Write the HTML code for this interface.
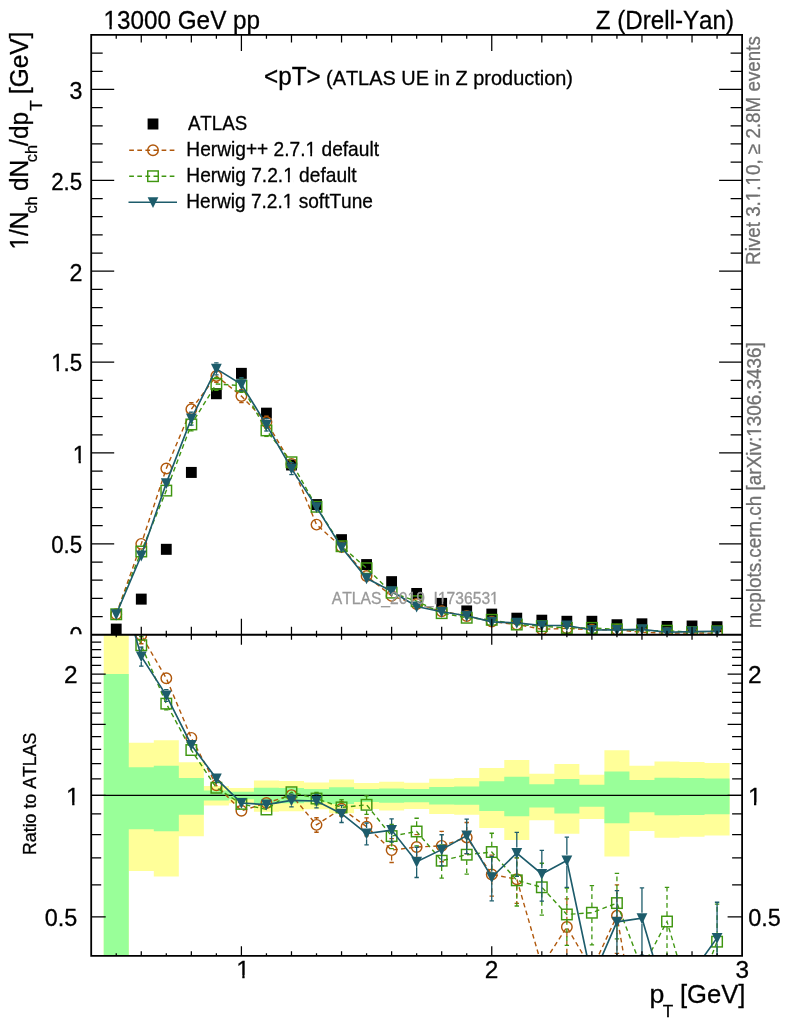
<!DOCTYPE html>
<html><head><meta charset="utf-8"><title>plot</title><style>html,body{margin:0;padding:0;background:#fff}svg{display:block;will-change:transform}text{font-kerning:none}</style></head><body>
<svg width="786" height="1024" viewBox="0 0 786 1024" font-family="'Liberation Sans', sans-serif">
<rect width="786" height="1024" fill="#fff"/>
<defs><clipPath id="cm"><rect x="91.2" y="34.9" width="650.9" height="599.85"/></clipPath><clipPath id="cr"><rect x="91.2" y="634.75" width="650.9" height="321.04999999999995"/></clipPath><clipPath id="c0"><rect x="0" y="0" width="91.2" height="634.15"/></clipPath></defs>
<g clip-path="url(#cm)"><rect x="110.83" y="623.62" width="10.8" height="11" fill="#000"/><rect x="135.87" y="593.62" width="10.8" height="11" fill="#000"/><rect x="160.90" y="543.82" width="10.8" height="11" fill="#000"/><rect x="185.94" y="466.93" width="10.8" height="11" fill="#000"/><rect x="210.97" y="388.22" width="10.8" height="11" fill="#000"/><rect x="236.01" y="367.86" width="10.8" height="11" fill="#000"/><rect x="261.04" y="407.67" width="10.8" height="11" fill="#000"/><rect x="286.08" y="459.47" width="10.8" height="11" fill="#000"/><rect x="311.11" y="499.10" width="10.8" height="11" fill="#000"/><rect x="336.15" y="534.18" width="10.8" height="11" fill="#000"/><rect x="361.18" y="559.09" width="10.8" height="11" fill="#000"/><rect x="386.22" y="576.17" width="10.8" height="11" fill="#000"/><rect x="411.25" y="587.99" width="10.8" height="11" fill="#000"/><rect x="436.28" y="597.89" width="10.8" height="11" fill="#000"/><rect x="461.32" y="605.44" width="10.8" height="11" fill="#000"/><rect x="486.35" y="608.62" width="10.8" height="11" fill="#000"/><rect x="511.39" y="612.71" width="10.8" height="11" fill="#000"/><rect x="536.42" y="614.71" width="10.8" height="11" fill="#000"/><rect x="561.46" y="615.80" width="10.8" height="11" fill="#000"/><rect x="586.49" y="615.80" width="10.8" height="11" fill="#000"/><rect x="611.53" y="619.25" width="10.8" height="11" fill="#000"/><rect x="636.56" y="618.34" width="10.8" height="11" fill="#000"/><rect x="661.60" y="620.96" width="10.8" height="11" fill="#000"/><rect x="686.63" y="620.52" width="10.8" height="11" fill="#000"/><rect x="711.67" y="621.25" width="10.8" height="11" fill="#000"/></g>
<g clip-path="url(#cm)" stroke="#b0580c" fill="none"><path d="M116.23 614.28 L141.27 543.86 L166.30 468.43 L191.34 409.17 L216.37 375.91 L241.41 396.08 L266.44 422.08 L291.48 463.88 L316.51 524.60 L341.55 546.95 L366.58 576.02 L391.62 595.90 L416.65 604.01 L441.68 611.23 L466.72 616.01 L491.75 621.61 L516.79 624.49 L541.82 629.25 L566.86 628.40 L591.89 629.77 L616.93 629.72 L641.96 632.35 L667.00 633.09 L692.03 633.00 L717.07 633.15" stroke-width="1.4" stroke-dasharray="4.7 3.4"/><path d="M191.34 403.57V402.68" stroke-width="1.3" stroke-dasharray="4.7 3.4"/><path d="M189.14 402.68H193.54" stroke-width="1.3"/><path d="M191.34 414.77V415.66" stroke-width="1.3" stroke-dasharray="4.7 3.4"/><path d="M189.14 415.66H193.54" stroke-width="1.3"/><path d="M216.37 370.31V369.40" stroke-width="1.3" stroke-dasharray="4.7 3.4"/><path d="M214.17 369.40H218.57" stroke-width="1.3"/><path d="M216.37 381.51V382.41" stroke-width="1.3" stroke-dasharray="4.7 3.4"/><path d="M214.17 382.41H218.57" stroke-width="1.3"/><path d="M241.41 390.48V389.55" stroke-width="1.3" stroke-dasharray="4.7 3.4"/><path d="M239.21 389.55H243.61" stroke-width="1.3"/><path d="M241.41 401.68V402.62" stroke-width="1.3" stroke-dasharray="4.7 3.4"/><path d="M239.21 402.62H243.61" stroke-width="1.3"/><path d="M266.44 416.48V416.09" stroke-width="1.3" stroke-dasharray="4.7 3.4"/><path d="M264.24 416.09H268.64" stroke-width="1.3"/><path d="M266.44 427.68V428.06" stroke-width="1.3" stroke-dasharray="4.7 3.4"/><path d="M264.24 428.06H268.64" stroke-width="1.3"/></g><g clip-path="url(#cm)"><circle cx="116.23" cy="614.28" r="5.25" fill="none" stroke="#b0580c" stroke-width="1.45"/><circle cx="141.27" cy="543.86" r="5.25" fill="none" stroke="#b0580c" stroke-width="1.45"/><circle cx="166.30" cy="468.43" r="5.25" fill="none" stroke="#b0580c" stroke-width="1.45"/><circle cx="191.34" cy="409.17" r="5.25" fill="none" stroke="#b0580c" stroke-width="1.45"/><circle cx="216.37" cy="375.91" r="5.25" fill="none" stroke="#b0580c" stroke-width="1.45"/><circle cx="241.41" cy="396.08" r="5.25" fill="none" stroke="#b0580c" stroke-width="1.45"/><circle cx="266.44" cy="422.08" r="5.25" fill="none" stroke="#b0580c" stroke-width="1.45"/><circle cx="291.48" cy="463.88" r="5.25" fill="none" stroke="#b0580c" stroke-width="1.45"/><circle cx="316.51" cy="524.60" r="5.25" fill="none" stroke="#b0580c" stroke-width="1.45"/><circle cx="341.55" cy="546.95" r="5.25" fill="none" stroke="#b0580c" stroke-width="1.45"/><circle cx="366.58" cy="576.02" r="5.25" fill="none" stroke="#b0580c" stroke-width="1.45"/><circle cx="391.62" cy="595.90" r="5.25" fill="none" stroke="#b0580c" stroke-width="1.45"/><circle cx="416.65" cy="604.01" r="5.25" fill="none" stroke="#b0580c" stroke-width="1.45"/><circle cx="441.68" cy="611.23" r="5.25" fill="none" stroke="#b0580c" stroke-width="1.45"/><circle cx="466.72" cy="616.01" r="5.25" fill="none" stroke="#b0580c" stroke-width="1.45"/><circle cx="491.75" cy="621.61" r="5.25" fill="none" stroke="#b0580c" stroke-width="1.45"/><circle cx="516.79" cy="624.49" r="5.25" fill="none" stroke="#b0580c" stroke-width="1.45"/><circle cx="541.82" cy="629.25" r="5.25" fill="none" stroke="#b0580c" stroke-width="1.45"/><circle cx="566.86" cy="628.40" r="5.25" fill="none" stroke="#b0580c" stroke-width="1.45"/><circle cx="591.89" cy="629.77" r="5.25" fill="none" stroke="#b0580c" stroke-width="1.45"/><circle cx="616.93" cy="629.72" r="5.25" fill="none" stroke="#b0580c" stroke-width="1.45"/><circle cx="641.96" cy="632.35" r="5.25" fill="none" stroke="#b0580c" stroke-width="1.45"/><circle cx="667.00" cy="633.09" r="5.25" fill="none" stroke="#b0580c" stroke-width="1.45"/><circle cx="692.03" cy="633.00" r="5.25" fill="none" stroke="#b0580c" stroke-width="1.45"/><circle cx="717.07" cy="633.15" r="5.25" fill="none" stroke="#b0580c" stroke-width="1.45"/></g>
<g clip-path="url(#cm)" stroke="#3f9610" fill="none"><path d="M116.23 614.28 L141.27 551.50 L166.30 490.60 L191.34 424.44 L216.37 383.90 L241.41 385.72 L266.44 430.44 L291.48 462.25 L316.51 506.78 L341.55 546.23 L366.58 568.23 L391.62 592.66 L416.65 601.16 L441.68 613.15 L466.72 617.77 L491.75 619.81 L516.79 624.56 L541.82 626.14 L566.86 627.93 L591.89 627.86 L616.93 629.34 L641.96 630.69 L667.00 630.71 L692.03 632.13 L717.07 631.28" stroke-width="1.4" stroke-dasharray="4.7 3.4"/><path d="M191.34 418.84V417.95" stroke-width="1.3" stroke-dasharray="4.7 3.4"/><path d="M189.14 417.95H193.54" stroke-width="1.3"/><path d="M191.34 430.04V430.93" stroke-width="1.3" stroke-dasharray="4.7 3.4"/><path d="M189.14 430.93H193.54" stroke-width="1.3"/><path d="M216.37 378.30V377.40" stroke-width="1.3" stroke-dasharray="4.7 3.4"/><path d="M214.17 377.40H218.57" stroke-width="1.3"/><path d="M216.37 389.50V390.41" stroke-width="1.3" stroke-dasharray="4.7 3.4"/><path d="M214.17 390.41H218.57" stroke-width="1.3"/><path d="M241.41 380.12V379.19" stroke-width="1.3" stroke-dasharray="4.7 3.4"/><path d="M239.21 379.19H243.61" stroke-width="1.3"/><path d="M241.41 391.32V392.26" stroke-width="1.3" stroke-dasharray="4.7 3.4"/><path d="M239.21 392.26H243.61" stroke-width="1.3"/><path d="M266.44 424.84V424.45" stroke-width="1.3" stroke-dasharray="4.7 3.4"/><path d="M264.24 424.45H268.64" stroke-width="1.3"/><path d="M266.44 436.04V436.42" stroke-width="1.3" stroke-dasharray="4.7 3.4"/><path d="M264.24 436.42H268.64" stroke-width="1.3"/></g><g clip-path="url(#cm)"><rect x="110.98" y="609.03" width="10.5" height="10.5" fill="none" stroke="#3f9610" stroke-width="1.45"/><rect x="136.02" y="546.25" width="10.5" height="10.5" fill="none" stroke="#3f9610" stroke-width="1.45"/><rect x="161.05" y="485.35" width="10.5" height="10.5" fill="none" stroke="#3f9610" stroke-width="1.45"/><rect x="186.09" y="419.19" width="10.5" height="10.5" fill="none" stroke="#3f9610" stroke-width="1.45"/><rect x="211.12" y="378.65" width="10.5" height="10.5" fill="none" stroke="#3f9610" stroke-width="1.45"/><rect x="236.16" y="380.47" width="10.5" height="10.5" fill="none" stroke="#3f9610" stroke-width="1.45"/><rect x="261.19" y="425.19" width="10.5" height="10.5" fill="none" stroke="#3f9610" stroke-width="1.45"/><rect x="286.23" y="457.00" width="10.5" height="10.5" fill="none" stroke="#3f9610" stroke-width="1.45"/><rect x="311.26" y="501.53" width="10.5" height="10.5" fill="none" stroke="#3f9610" stroke-width="1.45"/><rect x="336.30" y="540.98" width="10.5" height="10.5" fill="none" stroke="#3f9610" stroke-width="1.45"/><rect x="361.33" y="562.98" width="10.5" height="10.5" fill="none" stroke="#3f9610" stroke-width="1.45"/><rect x="386.37" y="587.41" width="10.5" height="10.5" fill="none" stroke="#3f9610" stroke-width="1.45"/><rect x="411.40" y="595.91" width="10.5" height="10.5" fill="none" stroke="#3f9610" stroke-width="1.45"/><rect x="436.43" y="607.90" width="10.5" height="10.5" fill="none" stroke="#3f9610" stroke-width="1.45"/><rect x="461.47" y="612.52" width="10.5" height="10.5" fill="none" stroke="#3f9610" stroke-width="1.45"/><rect x="486.50" y="614.56" width="10.5" height="10.5" fill="none" stroke="#3f9610" stroke-width="1.45"/><rect x="511.54" y="619.31" width="10.5" height="10.5" fill="none" stroke="#3f9610" stroke-width="1.45"/><rect x="536.57" y="620.89" width="10.5" height="10.5" fill="none" stroke="#3f9610" stroke-width="1.45"/><rect x="561.61" y="622.68" width="10.5" height="10.5" fill="none" stroke="#3f9610" stroke-width="1.45"/><rect x="586.64" y="622.61" width="10.5" height="10.5" fill="none" stroke="#3f9610" stroke-width="1.45"/><rect x="611.68" y="624.09" width="10.5" height="10.5" fill="none" stroke="#3f9610" stroke-width="1.45"/><rect x="636.71" y="625.44" width="10.5" height="10.5" fill="none" stroke="#3f9610" stroke-width="1.45"/><rect x="661.75" y="625.46" width="10.5" height="10.5" fill="none" stroke="#3f9610" stroke-width="1.45"/><rect x="686.78" y="626.88" width="10.5" height="10.5" fill="none" stroke="#3f9610" stroke-width="1.45"/><rect x="711.82" y="626.03" width="10.5" height="10.5" fill="none" stroke="#3f9610" stroke-width="1.45"/></g>
<g clip-path="url(#cm)" stroke="#1d5c6b" fill="none"><path d="M116.23 614.28 L141.27 555.50 L166.30 483.15 L191.34 418.62 L216.37 368.82 L241.41 384.27 L266.44 424.80 L291.48 468.61 L316.51 507.15 L341.55 547.32 L366.58 578.30 L391.62 591.19 L416.65 606.49 L441.68 611.73 L466.72 615.80 L491.75 621.81 L516.79 622.84 L541.82 625.46 L566.86 625.47 L591.89 630.04 L616.93 629.89 L641.96 629.34 L667.00 632.22 L692.03 631.58 L717.07 631.20" stroke-width="1.65"/><path d="M191.34 413.02V412.13" stroke-width="1.3"/><path d="M189.14 412.13H193.54" stroke-width="1.3"/><path d="M191.34 424.22V425.12" stroke-width="1.3"/><path d="M189.14 425.12H193.54" stroke-width="1.3"/><path d="M216.37 363.22V362.79" stroke-width="1.3"/><path d="M214.17 362.79H218.57" stroke-width="1.3"/><path d="M216.37 374.42V374.84" stroke-width="1.3"/><path d="M214.17 374.84H218.57" stroke-width="1.3"/><path d="M241.41 378.67V377.73" stroke-width="1.3"/><path d="M239.21 377.73H243.61" stroke-width="1.3"/><path d="M241.41 389.87V390.80" stroke-width="1.3"/><path d="M239.21 390.80H243.61" stroke-width="1.3"/><path d="M266.44 419.20V418.60" stroke-width="1.3"/><path d="M264.24 418.60H268.64" stroke-width="1.3"/><path d="M266.44 430.40V431.01" stroke-width="1.3"/><path d="M264.24 431.01H268.64" stroke-width="1.3"/><path d="M291.48 463.01V462.67" stroke-width="1.3"/><path d="M289.28 462.67H293.68" stroke-width="1.3"/><path d="M291.48 474.21V474.55" stroke-width="1.3"/><path d="M289.28 474.55H293.68" stroke-width="1.3"/></g><g clip-path="url(#cm)"><path d="M110.83 609.28H121.63L116.23 620.18Z" fill="#1d5c6b"/><path d="M135.87 550.50H146.67L141.27 561.40Z" fill="#1d5c6b"/><path d="M160.90 478.15H171.70L166.30 489.05Z" fill="#1d5c6b"/><path d="M185.94 413.62H196.74L191.34 424.52Z" fill="#1d5c6b"/><path d="M210.97 363.82H221.77L216.37 374.72Z" fill="#1d5c6b"/><path d="M236.01 379.27H246.81L241.41 390.17Z" fill="#1d5c6b"/><path d="M261.04 419.80H271.84L266.44 430.70Z" fill="#1d5c6b"/><path d="M286.08 463.61H296.88L291.48 474.51Z" fill="#1d5c6b"/><path d="M311.11 502.15H321.91L316.51 513.05Z" fill="#1d5c6b"/><path d="M336.15 542.32H346.95L341.55 553.22Z" fill="#1d5c6b"/><path d="M361.18 573.30H371.98L366.58 584.20Z" fill="#1d5c6b"/><path d="M386.22 586.19H397.02L391.62 597.09Z" fill="#1d5c6b"/><path d="M411.25 601.49H422.05L416.65 612.39Z" fill="#1d5c6b"/><path d="M436.28 606.73H447.08L441.68 617.63Z" fill="#1d5c6b"/><path d="M461.32 610.80H472.12L466.72 621.70Z" fill="#1d5c6b"/><path d="M486.35 616.81H497.15L491.75 627.71Z" fill="#1d5c6b"/><path d="M511.39 617.84H522.19L516.79 628.74Z" fill="#1d5c6b"/><path d="M536.42 620.46H547.22L541.82 631.36Z" fill="#1d5c6b"/><path d="M561.46 620.47H572.26L566.86 631.37Z" fill="#1d5c6b"/><path d="M586.49 625.04H597.29L591.89 635.94Z" fill="#1d5c6b"/><path d="M611.53 624.89H622.33L616.93 635.79Z" fill="#1d5c6b"/><path d="M636.56 624.34H647.36L641.96 635.24Z" fill="#1d5c6b"/><path d="M661.60 627.22H672.40L667.00 638.12Z" fill="#1d5c6b"/><path d="M686.63 626.58H697.43L692.03 637.48Z" fill="#1d5c6b"/><path d="M711.67 626.20H722.47L717.07 637.10Z" fill="#1d5c6b"/></g>
<g clip-path="url(#cr)"><path d="M103.72 602.98 L128.75 602.98 L128.75 742.87 L153.79 742.87 L153.79 740.30 L178.82 740.30 L178.82 762.35 L203.86 762.35 L203.86 785.90 L228.89 785.90 L228.89 787.91 L253.93 787.91 L253.93 780.51 L278.96 780.51 L278.96 781.00 L303.99 781.00 L303.99 782.62 L329.03 782.62 L329.03 779.39 L354.06 779.39 L354.06 782.94 L379.10 782.94 L379.10 781.64 L404.13 781.64 L404.13 782.78 L429.17 782.78 L429.17 778.75 L454.20 778.75 L454.20 778.12 L479.24 778.12 L479.24 767.94 L504.27 767.94 L504.27 759.90 L529.31 759.90 L529.31 773.73 L554.34 773.73 L554.34 764.09 L579.38 764.09 L579.38 774.66 L604.41 774.66 L604.41 750.30 L629.44 750.30 L629.44 765.86 L654.48 765.86 L654.48 761.48 L679.51 761.48 L679.51 762.06 L704.55 762.06 L704.55 762.93 L729.58 762.93 L729.58 835.42 L704.55 835.42 L704.55 836.75 L679.51 836.75 L679.51 837.64 L654.48 837.64 L654.48 831.07 L629.44 831.07 L629.44 856.44 L604.41 856.44 L604.41 819.04 L579.38 819.04 L579.38 833.67 L554.34 833.67 L554.34 820.25 L529.31 820.25 L529.31 840.10 L504.27 840.10 L504.27 828.09 L479.24 828.09 L479.24 814.69 L454.20 814.69 L454.20 813.91 L429.17 813.91 L429.17 809.11 L404.13 809.11 L404.13 810.44 L379.10 810.44 L379.10 808.92 L354.06 808.92 L354.06 813.13 L329.03 813.13 L329.03 809.30 L303.99 809.30 L303.99 811.20 L278.96 811.20 L278.96 811.78 L253.93 811.78 L253.93 803.33 L228.89 803.33 L228.89 805.55 L203.86 805.55 L203.86 836.30 L178.82 836.30 L178.82 876.39 L153.79 876.39 L153.79 870.92 L128.75 870.92 L128.75 1320.27 L103.72 1320.27Z" fill="#ffff99"/><path d="M103.72 674.02 L128.75 674.02 L128.75 767.20 L153.79 767.20 L153.79 765.71 L178.82 765.71 L178.82 778.12 L203.86 778.12 L203.86 790.61 L228.89 790.61 L228.89 791.64 L253.93 791.64 L253.93 787.82 L278.96 787.82 L278.96 788.07 L303.99 788.07 L303.99 788.92 L329.03 788.92 L329.03 787.24 L354.06 787.24 L354.06 789.09 L379.10 789.09 L379.10 788.41 L404.13 788.41 L404.13 789.00 L429.17 789.00 L429.17 786.90 L454.20 786.90 L454.20 786.57 L479.24 786.57 L479.24 781.16 L504.27 781.16 L504.27 776.77 L529.31 776.77 L529.31 784.25 L554.34 784.25 L554.34 779.07 L579.38 779.07 L579.38 784.75 L604.41 784.75 L604.41 771.42 L629.44 771.42 L629.44 780.03 L654.48 780.03 L654.48 777.64 L679.51 777.64 L679.51 777.96 L704.55 777.96 L704.55 778.43 L729.58 778.43 L729.58 814.30 L704.55 814.30 L704.55 814.88 L679.51 814.88 L679.51 815.28 L654.48 815.28 L654.48 812.36 L629.44 812.36 L629.44 823.30 L604.41 823.30 L604.41 806.85 L579.38 806.85 L579.38 813.52 L554.34 813.52 L554.34 807.41 L529.31 807.41 L529.31 816.36 L504.27 816.36 L504.27 811.01 L479.24 811.01 L479.24 804.81 L454.20 804.81 L454.20 804.44 L429.17 804.44 L429.17 802.15 L404.13 802.15 L404.13 802.78 L379.10 802.78 L379.10 802.05 L354.06 802.05 L354.06 804.07 L329.03 804.07 L329.03 802.24 L303.99 802.24 L303.99 803.15 L278.96 803.15 L278.96 803.42 L253.93 803.42 L253.93 799.35 L228.89 799.35 L228.89 800.43 L203.86 800.43 L203.86 814.69 L178.82 814.69 L178.82 831.29 L153.79 831.29 L153.79 829.15 L128.75 829.15 L128.75 1320.27 L103.72 1320.27Z" fill="#99ff99"/></g>
<path d="M91.2 795.45H742.1" stroke="#000" stroke-width="1.3"/>
<g clip-path="url(#cr)" stroke="#b0580c" fill="none"><path d="M116.23 569.59 L141.27 635.14 L166.30 678.27 L191.34 737.89 L216.37 785.24 L241.41 810.82 L266.44 802.97 L291.48 795.10 L316.51 824.85 L341.55 808.73 L366.58 826.62 L391.62 850.10 L416.65 847.02 L441.68 845.85 L466.72 837.41 L491.75 874.46 L516.79 879.20 L541.82 965.89 L566.86 926.98 L591.89 969.63 L616.93 915.83 L641.96 1060.71 L667.00 1077.41 L692.03 1077.41 L717.07 1077.41" stroke-width="1.4" stroke-dasharray="4.7 3.4"/><path d="M141.27 629.54V626.91" stroke-width="1.3" stroke-dasharray="4.7 3.4"/><path d="M139.07 626.91H143.47" stroke-width="1.3"/><path d="M141.27 640.74V643.76" stroke-width="1.3" stroke-dasharray="4.7 3.4"/><path d="M139.07 643.76H143.47" stroke-width="1.3"/><path d="M316.51 819.25V817.75" stroke-width="1.3" stroke-dasharray="4.7 3.4"/><path d="M314.31 817.75H318.71" stroke-width="1.3"/><path d="M316.51 830.45V832.26" stroke-width="1.3" stroke-dasharray="4.7 3.4"/><path d="M314.31 832.26H318.71" stroke-width="1.3"/><path d="M341.55 803.13V801.33" stroke-width="1.3" stroke-dasharray="4.7 3.4"/><path d="M339.35 801.33H343.75" stroke-width="1.3"/><path d="M341.55 814.33V816.46" stroke-width="1.3" stroke-dasharray="4.7 3.4"/><path d="M339.35 816.46H343.75" stroke-width="1.3"/><path d="M366.58 821.02V817.85" stroke-width="1.3" stroke-dasharray="4.7 3.4"/><path d="M364.38 817.85H368.78" stroke-width="1.3"/><path d="M366.58 832.22V835.86" stroke-width="1.3" stroke-dasharray="4.7 3.4"/><path d="M364.38 835.86H368.78" stroke-width="1.3"/><path d="M391.62 844.50V838.53" stroke-width="1.3" stroke-dasharray="4.7 3.4"/><path d="M389.42 838.53H393.82" stroke-width="1.3"/><path d="M391.62 855.70V862.50" stroke-width="1.3" stroke-dasharray="4.7 3.4"/><path d="M389.42 862.50H393.82" stroke-width="1.3"/><path d="M416.65 841.42V834.54" stroke-width="1.3" stroke-dasharray="4.7 3.4"/><path d="M414.45 834.54H418.85" stroke-width="1.3"/><path d="M416.65 852.62V860.46" stroke-width="1.3" stroke-dasharray="4.7 3.4"/><path d="M414.45 860.46H418.85" stroke-width="1.3"/><path d="M441.68 840.25V831.29" stroke-width="1.3" stroke-dasharray="4.7 3.4"/><path d="M439.48 831.29H443.88" stroke-width="1.3"/><path d="M441.68 851.45V861.73" stroke-width="1.3" stroke-dasharray="4.7 3.4"/><path d="M439.48 861.73H443.88" stroke-width="1.3"/><path d="M466.72 831.81V822.48" stroke-width="1.3" stroke-dasharray="4.7 3.4"/><path d="M464.52 822.48H468.92" stroke-width="1.3"/><path d="M466.72 843.01V853.73" stroke-width="1.3" stroke-dasharray="4.7 3.4"/><path d="M464.52 853.73H468.92" stroke-width="1.3"/><path d="M491.75 868.86V855.20" stroke-width="1.3" stroke-dasharray="4.7 3.4"/><path d="M489.55 855.20H493.95" stroke-width="1.3"/><path d="M491.75 880.06V896.09" stroke-width="1.3" stroke-dasharray="4.7 3.4"/><path d="M489.55 896.09H493.95" stroke-width="1.3"/><path d="M516.79 873.60V857.94" stroke-width="1.3" stroke-dasharray="4.7 3.4"/><path d="M514.59 857.94H518.99" stroke-width="1.3"/><path d="M516.79 884.80V903.40" stroke-width="1.3" stroke-dasharray="4.7 3.4"/><path d="M514.59 903.40H518.99" stroke-width="1.3"/><path d="M566.86 921.38V898.92" stroke-width="1.3" stroke-dasharray="4.7 3.4"/><path d="M564.66 898.92H569.06" stroke-width="1.3"/><path d="M566.86 932.58V960.41" stroke-width="1.3" stroke-dasharray="4.7 3.4"/><path d="M564.66 960.41H569.06" stroke-width="1.3"/><path d="M616.93 910.23V884.94" stroke-width="1.3" stroke-dasharray="4.7 3.4"/><path d="M614.73 884.94H619.13" stroke-width="1.3"/><path d="M616.93 921.43V953.37" stroke-width="1.3" stroke-dasharray="4.7 3.4"/><path d="M614.73 953.37H619.13" stroke-width="1.3"/></g><g clip-path="url(#cr)"><circle cx="141.27" cy="635.14" r="5.25" fill="none" stroke="#b0580c" stroke-width="1.45"/><circle cx="166.30" cy="678.27" r="5.25" fill="none" stroke="#b0580c" stroke-width="1.45"/><circle cx="191.34" cy="737.89" r="5.25" fill="none" stroke="#b0580c" stroke-width="1.45"/><circle cx="216.37" cy="785.24" r="5.25" fill="none" stroke="#b0580c" stroke-width="1.45"/><circle cx="241.41" cy="810.82" r="5.25" fill="none" stroke="#b0580c" stroke-width="1.45"/><circle cx="266.44" cy="802.97" r="5.25" fill="none" stroke="#b0580c" stroke-width="1.45"/><circle cx="291.48" cy="795.10" r="5.25" fill="none" stroke="#b0580c" stroke-width="1.45"/><circle cx="316.51" cy="824.85" r="5.25" fill="none" stroke="#b0580c" stroke-width="1.45"/><circle cx="341.55" cy="808.73" r="5.25" fill="none" stroke="#b0580c" stroke-width="1.45"/><circle cx="366.58" cy="826.62" r="5.25" fill="none" stroke="#b0580c" stroke-width="1.45"/><circle cx="391.62" cy="850.10" r="5.25" fill="none" stroke="#b0580c" stroke-width="1.45"/><circle cx="416.65" cy="847.02" r="5.25" fill="none" stroke="#b0580c" stroke-width="1.45"/><circle cx="441.68" cy="845.85" r="5.25" fill="none" stroke="#b0580c" stroke-width="1.45"/><circle cx="466.72" cy="837.41" r="5.25" fill="none" stroke="#b0580c" stroke-width="1.45"/><circle cx="491.75" cy="874.46" r="5.25" fill="none" stroke="#b0580c" stroke-width="1.45"/><circle cx="516.79" cy="879.20" r="5.25" fill="none" stroke="#b0580c" stroke-width="1.45"/><circle cx="566.86" cy="926.98" r="5.25" fill="none" stroke="#b0580c" stroke-width="1.45"/><circle cx="616.93" cy="915.83" r="5.25" fill="none" stroke="#b0580c" stroke-width="1.45"/></g>
<g clip-path="url(#cr)" stroke="#3f9610" fill="none"><path d="M116.23 569.59 L141.27 645.24 L166.30 703.63 L191.34 750.03 L216.37 787.74 L241.41 803.88 L266.44 809.49 L291.48 792.24 L316.51 798.54 L341.55 807.41 L366.58 804.81 L391.62 836.08 L416.65 831.50 L441.68 860.71 L466.72 854.71 L491.75 852.03 L516.79 880.33 L541.82 887.29 L566.86 914.45 L591.89 912.73 L616.93 903.08 L641.96 968.69 L667.00 921.50 L692.03 1006.37 L717.07 941.68" stroke-width="1.4" stroke-dasharray="4.7 3.4"/><path d="M141.27 639.64V636.54" stroke-width="1.3" stroke-dasharray="4.7 3.4"/><path d="M139.07 636.54H143.47" stroke-width="1.3"/><path d="M141.27 650.84V654.40" stroke-width="1.3" stroke-dasharray="4.7 3.4"/><path d="M139.07 654.40H143.47" stroke-width="1.3"/><path d="M166.30 698.03V697.51" stroke-width="1.3" stroke-dasharray="4.7 3.4"/><path d="M164.10 697.51H168.50" stroke-width="1.3"/><path d="M166.30 709.23V709.96" stroke-width="1.3" stroke-dasharray="4.7 3.4"/><path d="M164.10 709.96H168.50" stroke-width="1.3"/><path d="M316.51 792.94V792.41" stroke-width="1.3" stroke-dasharray="4.7 3.4"/><path d="M314.31 792.41H318.71" stroke-width="1.3"/><path d="M316.51 804.14V804.90" stroke-width="1.3" stroke-dasharray="4.7 3.4"/><path d="M314.31 804.90H318.71" stroke-width="1.3"/><path d="M341.55 801.81V799.71" stroke-width="1.3" stroke-dasharray="4.7 3.4"/><path d="M339.35 799.71H343.75" stroke-width="1.3"/><path d="M341.55 813.01V815.47" stroke-width="1.3" stroke-dasharray="4.7 3.4"/><path d="M339.35 815.47H343.75" stroke-width="1.3"/><path d="M366.58 799.21V795.80" stroke-width="1.3" stroke-dasharray="4.7 3.4"/><path d="M364.38 795.80H368.78" stroke-width="1.3"/><path d="M366.58 810.41V814.30" stroke-width="1.3" stroke-dasharray="4.7 3.4"/><path d="M364.38 814.30H368.78" stroke-width="1.3"/><path d="M391.62 830.48V824.33" stroke-width="1.3" stroke-dasharray="4.7 3.4"/><path d="M389.42 824.33H393.82" stroke-width="1.3"/><path d="M391.62 841.68V848.67" stroke-width="1.3" stroke-dasharray="4.7 3.4"/><path d="M389.42 848.67H393.82" stroke-width="1.3"/><path d="M416.65 825.90V818.24" stroke-width="1.3" stroke-dasharray="4.7 3.4"/><path d="M414.45 818.24H418.85" stroke-width="1.3"/><path d="M416.65 837.10V845.85" stroke-width="1.3" stroke-dasharray="4.7 3.4"/><path d="M414.45 845.85H418.85" stroke-width="1.3"/><path d="M441.68 855.11V844.92" stroke-width="1.3" stroke-dasharray="4.7 3.4"/><path d="M439.48 844.92H443.88" stroke-width="1.3"/><path d="M441.68 866.31V878.07" stroke-width="1.3" stroke-dasharray="4.7 3.4"/><path d="M439.48 878.07H443.88" stroke-width="1.3"/><path d="M466.72 849.11V837.19" stroke-width="1.3" stroke-dasharray="4.7 3.4"/><path d="M464.52 837.19H468.92" stroke-width="1.3"/><path d="M466.72 860.31V874.18" stroke-width="1.3" stroke-dasharray="4.7 3.4"/><path d="M464.52 874.18H468.92" stroke-width="1.3"/><path d="M491.75 846.43V833.23" stroke-width="1.3" stroke-dasharray="4.7 3.4"/><path d="M489.55 833.23H493.95" stroke-width="1.3"/><path d="M491.75 857.63V873.09" stroke-width="1.3" stroke-dasharray="4.7 3.4"/><path d="M489.55 873.09H493.95" stroke-width="1.3"/><path d="M516.79 874.73V857.94" stroke-width="1.3" stroke-dasharray="4.7 3.4"/><path d="M514.59 857.94H518.99" stroke-width="1.3"/><path d="M516.79 885.93V906.01" stroke-width="1.3" stroke-dasharray="4.7 3.4"/><path d="M514.59 906.01H518.99" stroke-width="1.3"/><path d="M541.82 881.69V863.27" stroke-width="1.3" stroke-dasharray="4.7 3.4"/><path d="M539.62 863.27H544.02" stroke-width="1.3"/><path d="M541.82 892.89V915.14" stroke-width="1.3" stroke-dasharray="4.7 3.4"/><path d="M539.62 915.14H544.02" stroke-width="1.3"/><path d="M566.86 908.85V888.18" stroke-width="1.3" stroke-dasharray="4.7 3.4"/><path d="M564.66 888.18H569.06" stroke-width="1.3"/><path d="M566.86 920.05V945.35" stroke-width="1.3" stroke-dasharray="4.7 3.4"/><path d="M564.66 945.35H569.06" stroke-width="1.3"/><path d="M591.89 907.13V885.53" stroke-width="1.3" stroke-dasharray="4.7 3.4"/><path d="M589.69 885.53H594.09" stroke-width="1.3"/><path d="M591.89 918.33V944.94" stroke-width="1.3" stroke-dasharray="4.7 3.4"/><path d="M589.69 944.94H594.09" stroke-width="1.3"/><path d="M616.93 897.48V873.36" stroke-width="1.3" stroke-dasharray="4.7 3.4"/><path d="M614.73 873.36H619.13" stroke-width="1.3"/><path d="M616.93 908.68V938.88" stroke-width="1.3" stroke-dasharray="4.7 3.4"/><path d="M614.73 938.88H619.13" stroke-width="1.3"/><path d="M667.00 915.90V887.29" stroke-width="1.3" stroke-dasharray="4.7 3.4"/><path d="M664.80 887.29H669.20" stroke-width="1.3"/><path d="M667.00 927.10V964.04" stroke-width="1.3" stroke-dasharray="4.7 3.4"/><path d="M664.80 964.04H669.20" stroke-width="1.3"/><path d="M717.07 936.08V904.05" stroke-width="1.3" stroke-dasharray="4.7 3.4"/><path d="M714.87 904.05H719.27" stroke-width="1.3"/><path d="M717.07 947.28V989.68" stroke-width="1.3" stroke-dasharray="4.7 3.4"/><path d="M714.87 989.68H719.27" stroke-width="1.3"/></g><g clip-path="url(#cr)"><rect x="136.02" y="639.99" width="10.5" height="10.5" fill="none" stroke="#3f9610" stroke-width="1.45"/><rect x="161.05" y="698.38" width="10.5" height="10.5" fill="none" stroke="#3f9610" stroke-width="1.45"/><rect x="186.09" y="744.78" width="10.5" height="10.5" fill="none" stroke="#3f9610" stroke-width="1.45"/><rect x="211.12" y="782.49" width="10.5" height="10.5" fill="none" stroke="#3f9610" stroke-width="1.45"/><rect x="236.16" y="798.63" width="10.5" height="10.5" fill="none" stroke="#3f9610" stroke-width="1.45"/><rect x="261.19" y="804.24" width="10.5" height="10.5" fill="none" stroke="#3f9610" stroke-width="1.45"/><rect x="286.23" y="786.99" width="10.5" height="10.5" fill="none" stroke="#3f9610" stroke-width="1.45"/><rect x="311.26" y="793.29" width="10.5" height="10.5" fill="none" stroke="#3f9610" stroke-width="1.45"/><rect x="336.30" y="802.16" width="10.5" height="10.5" fill="none" stroke="#3f9610" stroke-width="1.45"/><rect x="361.33" y="799.56" width="10.5" height="10.5" fill="none" stroke="#3f9610" stroke-width="1.45"/><rect x="386.37" y="830.83" width="10.5" height="10.5" fill="none" stroke="#3f9610" stroke-width="1.45"/><rect x="411.40" y="826.25" width="10.5" height="10.5" fill="none" stroke="#3f9610" stroke-width="1.45"/><rect x="436.43" y="855.46" width="10.5" height="10.5" fill="none" stroke="#3f9610" stroke-width="1.45"/><rect x="461.47" y="849.46" width="10.5" height="10.5" fill="none" stroke="#3f9610" stroke-width="1.45"/><rect x="486.50" y="846.78" width="10.5" height="10.5" fill="none" stroke="#3f9610" stroke-width="1.45"/><rect x="511.54" y="875.08" width="10.5" height="10.5" fill="none" stroke="#3f9610" stroke-width="1.45"/><rect x="536.57" y="882.04" width="10.5" height="10.5" fill="none" stroke="#3f9610" stroke-width="1.45"/><rect x="561.61" y="909.20" width="10.5" height="10.5" fill="none" stroke="#3f9610" stroke-width="1.45"/><rect x="586.64" y="907.48" width="10.5" height="10.5" fill="none" stroke="#3f9610" stroke-width="1.45"/><rect x="611.68" y="897.83" width="10.5" height="10.5" fill="none" stroke="#3f9610" stroke-width="1.45"/><rect x="661.75" y="916.25" width="10.5" height="10.5" fill="none" stroke="#3f9610" stroke-width="1.45"/><rect x="711.82" y="936.43" width="10.5" height="10.5" fill="none" stroke="#3f9610" stroke-width="1.45"/></g>
<g clip-path="url(#cr)" stroke="#1d5c6b" fill="none"><path d="M116.23 569.59 L141.27 656.45 L166.30 695.42 L191.34 744.96 L216.37 778.59 L241.41 802.97 L266.44 804.62 L291.48 800.35 L316.51 800.97 L341.55 813.71 L366.58 833.56 L391.62 830.07 L416.65 861.73 L441.68 849.63 L466.72 835.49 L491.75 877.23 L516.79 853.00 L541.82 873.91 L566.86 860.46 L591.89 979.37 L616.93 921.86 L641.96 918.29 L667.00 1003.48 L692.03 972.98 L717.07 937.89" stroke-width="1.65"/><path d="M141.27 650.85V647.19" stroke-width="1.3"/><path d="M139.07 647.19H143.47" stroke-width="1.3"/><path d="M141.27 662.05V666.22" stroke-width="1.3"/><path d="M139.07 666.22H143.47" stroke-width="1.3"/><path d="M166.30 689.82V689.58" stroke-width="1.3"/><path d="M164.10 689.58H168.50" stroke-width="1.3"/><path d="M166.30 701.02V701.46" stroke-width="1.3"/><path d="M164.10 701.46H168.50" stroke-width="1.3"/><path d="M291.48 794.75V794.16" stroke-width="1.3"/><path d="M289.28 794.16H293.68" stroke-width="1.3"/><path d="M291.48 805.95V806.78" stroke-width="1.3"/><path d="M289.28 806.78H293.68" stroke-width="1.3"/><path d="M316.51 795.37V794.40" stroke-width="1.3"/><path d="M314.31 794.40H318.71" stroke-width="1.3"/><path d="M316.51 806.57V807.79" stroke-width="1.3"/><path d="M314.31 807.79H318.71" stroke-width="1.3"/><path d="M341.55 808.11V805.36" stroke-width="1.3"/><path d="M339.35 805.36H343.75" stroke-width="1.3"/><path d="M341.55 819.31V822.48" stroke-width="1.3"/><path d="M339.35 822.48H343.75" stroke-width="1.3"/><path d="M366.58 827.96V823.00" stroke-width="1.3"/><path d="M364.38 823.00H368.78" stroke-width="1.3"/><path d="M366.58 839.16V844.80" stroke-width="1.3"/><path d="M364.38 844.80H368.78" stroke-width="1.3"/><path d="M391.62 824.47V818.90" stroke-width="1.3"/><path d="M389.42 818.90H393.82" stroke-width="1.3"/><path d="M391.62 835.67V841.99" stroke-width="1.3"/><path d="M389.42 841.99H393.82" stroke-width="1.3"/><path d="M416.65 856.13V847.26" stroke-width="1.3"/><path d="M414.45 847.26H418.85" stroke-width="1.3"/><path d="M416.65 867.33V877.51" stroke-width="1.3"/><path d="M414.45 877.51H418.85" stroke-width="1.3"/><path d="M441.68 844.03V834.76" stroke-width="1.3"/><path d="M439.48 834.76H443.88" stroke-width="1.3"/><path d="M441.68 855.23V865.87" stroke-width="1.3"/><path d="M439.48 865.87H443.88" stroke-width="1.3"/><path d="M466.72 829.89V819.10" stroke-width="1.3"/><path d="M464.52 819.10H468.92" stroke-width="1.3"/><path d="M466.72 841.09V853.56" stroke-width="1.3"/><path d="M464.52 853.56H468.92" stroke-width="1.3"/><path d="M491.75 871.63V856.44" stroke-width="1.3"/><path d="M489.55 856.44H493.95" stroke-width="1.3"/><path d="M491.75 882.83V900.82" stroke-width="1.3"/><path d="M489.55 900.82H493.95" stroke-width="1.3"/><path d="M516.79 847.40V832.37" stroke-width="1.3"/><path d="M514.59 832.37H518.99" stroke-width="1.3"/><path d="M516.79 858.60V876.39" stroke-width="1.3"/><path d="M514.59 876.39H518.99" stroke-width="1.3"/><path d="M541.82 868.31V850.34" stroke-width="1.3"/><path d="M539.62 850.34H544.02" stroke-width="1.3"/><path d="M541.82 879.51V901.14" stroke-width="1.3"/><path d="M539.62 901.14H544.02" stroke-width="1.3"/><path d="M566.86 854.86V837.19" stroke-width="1.3"/><path d="M564.66 837.19H569.06" stroke-width="1.3"/><path d="M566.86 866.06V887.29" stroke-width="1.3"/><path d="M564.66 887.29H569.06" stroke-width="1.3"/><path d="M616.93 916.26V890.58" stroke-width="1.3"/><path d="M614.73 890.58H619.13" stroke-width="1.3"/><path d="M616.93 927.46V959.96" stroke-width="1.3"/><path d="M614.73 959.96H619.13" stroke-width="1.3"/><path d="M641.96 912.69V887.89" stroke-width="1.3"/><path d="M639.76 887.89H644.16" stroke-width="1.3"/><path d="M641.96 923.89V955.10" stroke-width="1.3"/><path d="M639.76 955.10H644.16" stroke-width="1.3"/><path d="M717.07 932.29V902.27" stroke-width="1.3"/><path d="M714.87 902.27H719.27" stroke-width="1.3"/><path d="M717.07 943.49V982.65" stroke-width="1.3"/><path d="M714.87 982.65H719.27" stroke-width="1.3"/></g><g clip-path="url(#cr)"><path d="M135.87 651.45H146.67L141.27 662.35Z" fill="#1d5c6b"/><path d="M160.90 690.42H171.70L166.30 701.32Z" fill="#1d5c6b"/><path d="M185.94 739.96H196.74L191.34 750.86Z" fill="#1d5c6b"/><path d="M210.97 773.59H221.77L216.37 784.49Z" fill="#1d5c6b"/><path d="M236.01 797.97H246.81L241.41 808.87Z" fill="#1d5c6b"/><path d="M261.04 799.62H271.84L266.44 810.52Z" fill="#1d5c6b"/><path d="M286.08 795.35H296.88L291.48 806.25Z" fill="#1d5c6b"/><path d="M311.11 795.97H321.91L316.51 806.87Z" fill="#1d5c6b"/><path d="M336.15 808.71H346.95L341.55 819.61Z" fill="#1d5c6b"/><path d="M361.18 828.56H371.98L366.58 839.46Z" fill="#1d5c6b"/><path d="M386.22 825.07H397.02L391.62 835.97Z" fill="#1d5c6b"/><path d="M411.25 856.73H422.05L416.65 867.63Z" fill="#1d5c6b"/><path d="M436.28 844.63H447.08L441.68 855.53Z" fill="#1d5c6b"/><path d="M461.32 830.49H472.12L466.72 841.39Z" fill="#1d5c6b"/><path d="M486.35 872.23H497.15L491.75 883.13Z" fill="#1d5c6b"/><path d="M511.39 848.00H522.19L516.79 858.90Z" fill="#1d5c6b"/><path d="M536.42 868.91H547.22L541.82 879.81Z" fill="#1d5c6b"/><path d="M561.46 855.46H572.26L566.86 866.36Z" fill="#1d5c6b"/><path d="M611.53 916.86H622.33L616.93 927.76Z" fill="#1d5c6b"/><path d="M636.56 913.29H647.36L641.96 924.19Z" fill="#1d5c6b"/><path d="M711.67 932.89H722.47L717.07 943.79Z" fill="#1d5c6b"/></g>
<path d="M116.23 34.90v3.8M116.23 630.75V637.25M116.23 955.80v-2.5M141.27 34.90v7.5M141.27 626.75V639.75M141.27 955.80v-4.5M166.30 34.90v3.8M166.30 630.75V637.25M166.30 955.80v-2.5M191.34 34.90v7.5M191.34 626.75V639.75M191.34 955.80v-4.5M216.37 34.90v3.8M216.37 630.75V637.25M216.37 955.80v-2.5M241.41 34.90v16M241.41 618.75V644.75M241.41 955.80v-9.5M266.44 34.90v3.8M266.44 630.75V637.25M266.44 955.80v-2.5M291.48 34.90v7.5M291.48 626.75V639.75M291.48 955.80v-4.5M316.51 34.90v3.8M316.51 630.75V637.25M316.51 955.80v-2.5M341.55 34.90v7.5M341.55 626.75V639.75M341.55 955.80v-4.5M366.58 34.90v3.8M366.58 630.75V637.25M366.58 955.80v-2.5M391.62 34.90v7.5M391.62 626.75V639.75M391.62 955.80v-4.5M416.65 34.90v3.8M416.65 630.75V637.25M416.65 955.80v-2.5M441.68 34.90v7.5M441.68 626.75V639.75M441.68 955.80v-4.5M466.72 34.90v3.8M466.72 630.75V637.25M466.72 955.80v-2.5M491.75 34.90v16M491.75 618.75V644.75M491.75 955.80v-9.5M516.79 34.90v3.8M516.79 630.75V637.25M516.79 955.80v-2.5M541.82 34.90v7.5M541.82 626.75V639.75M541.82 955.80v-4.5M566.86 34.90v3.8M566.86 630.75V637.25M566.86 955.80v-2.5M591.89 34.90v7.5M591.89 626.75V639.75M591.89 955.80v-4.5M616.93 34.90v3.8M616.93 630.75V637.25M616.93 955.80v-2.5M641.96 34.90v7.5M641.96 626.75V639.75M641.96 955.80v-4.5M667.00 34.90v3.8M667.00 630.75V637.25M667.00 955.80v-2.5M692.03 34.90v7.5M692.03 626.75V639.75M692.03 955.80v-4.5M717.07 34.90v3.8M717.07 630.75V637.25M717.07 955.80v-2.5M91.2 616.57h11.5M742.1 616.57h-11.5M91.2 598.40h11.5M742.1 598.40h-11.5M91.2 580.22h11.5M742.1 580.22h-11.5M91.2 562.04h11.5M742.1 562.04h-11.5M91.2 543.86h23M742.1 543.86h-23M91.2 525.69h11.5M742.1 525.69h-11.5M91.2 507.51h11.5M742.1 507.51h-11.5M91.2 489.33h11.5M742.1 489.33h-11.5M91.2 471.15h11.5M742.1 471.15h-11.5M91.2 452.98h23M742.1 452.98h-23M91.2 434.80h11.5M742.1 434.80h-11.5M91.2 416.62h11.5M742.1 416.62h-11.5M91.2 398.45h11.5M742.1 398.45h-11.5M91.2 380.27h11.5M742.1 380.27h-11.5M91.2 362.09h23M742.1 362.09h-23M91.2 343.91h11.5M742.1 343.91h-11.5M91.2 325.74h11.5M742.1 325.74h-11.5M91.2 307.56h11.5M742.1 307.56h-11.5M91.2 289.38h11.5M742.1 289.38h-11.5M91.2 271.20h23M742.1 271.20h-23M91.2 253.03h11.5M742.1 253.03h-11.5M91.2 234.85h11.5M742.1 234.85h-11.5M91.2 216.67h11.5M742.1 216.67h-11.5M91.2 198.50h11.5M742.1 198.50h-11.5M91.2 180.32h23M742.1 180.32h-23M91.2 162.14h11.5M742.1 162.14h-11.5M91.2 143.96h11.5M742.1 143.96h-11.5M91.2 125.79h11.5M742.1 125.79h-11.5M91.2 107.61h11.5M742.1 107.61h-11.5M91.2 89.43h23M742.1 89.43h-23M91.2 71.25h11.5M742.1 71.25h-11.5M91.2 53.08h11.5M742.1 53.08h-11.5M91.2 916.88h14.5M742.1 916.88h-14.5M91.2 884.94h10M742.1 884.94h-10M91.2 857.94h10M742.1 857.94h-10M91.2 834.54h10M742.1 834.54h-10M91.2 813.91h10M742.1 813.91h-10M91.2 795.45h14.5M742.1 795.45h-14.5M91.2 778.75h10M742.1 778.75h-10M91.2 763.51h10M742.1 763.51h-10M91.2 749.49h10M742.1 749.49h-10M91.2 736.50h10M742.1 736.50h-10M91.2 724.42h14.5M742.1 724.42h-14.5M91.2 713.11h10M742.1 713.11h-10M91.2 702.49h10M742.1 702.49h-10M91.2 692.48h10M742.1 692.48h-10M91.2 683.00h10M742.1 683.00h-10M91.2 674.02h14.5M742.1 674.02h-14.5M91.2 665.47h10M742.1 665.47h-10M91.2 657.32h10M742.1 657.32h-10M91.2 649.53h10M742.1 649.53h-10M91.2 642.08h10M742.1 642.08h-10" stroke="#000" stroke-width="1.25" fill="none"/>
<path d="M91.2 34.9H742.1V955.8H91.2Z M91.2 634.75H742.1" stroke="#000" stroke-width="1.8" fill="none" stroke-linejoin="miter"/>
<text x="51.20" y="553.16" font-size="23.26" fill="#000" stroke="#000" stroke-width="0.3" textLength="31.00" lengthAdjust="spacingAndGlyphs">0.5</text>
<clipPath id="k1"><path clip-rule="evenodd" d="M-2000 -2000H4000V4000H-2000ZM73.29 460.09H78.63V465.98H73.29ZM80.79 460.09H85.72V465.98H80.79Z"/></clipPath><text x="72.83" y="462.98" font-size="23.26" fill="#000" stroke="#000" stroke-width="0.3" clip-path="url(#k1)">1</text>
<clipPath id="k2"><path clip-rule="evenodd" d="M-2000 -2000H4000V4000H-2000ZM51.64 368.50H56.76V374.39H51.64ZM58.83 368.50H63.56V374.39H58.83Z"/></clipPath><text x="51.20" y="371.39" font-size="23.26" fill="#000" stroke="#000" stroke-width="0.3" textLength="31.00" lengthAdjust="spacingAndGlyphs" clip-path="url(#k2)">1.5</text>
<text x="69.53" y="280.50" font-size="23.26" fill="#000" stroke="#000" stroke-width="0.3">2</text>
<text x="51.20" y="189.62" font-size="23.26" fill="#000" stroke="#000" stroke-width="0.3" textLength="31.00" lengthAdjust="spacingAndGlyphs">2.5</text>
<text x="69.53" y="98.73" font-size="23.26" fill="#000" stroke="#000" stroke-width="0.3">3</text>
<g clip-path="url(#c0)"><text x="69.53" y="644.05" font-size="23.26" fill="#000" stroke="#000" stroke-width="0.3">0</text></g>
<text x="44.77" y="925.88" font-size="24.41" fill="#000" stroke="#000" stroke-width="0.3" textLength="32.53" lengthAdjust="spacingAndGlyphs">0.5</text>
<text x="748.20" y="925.88" font-size="24.41" fill="#000" stroke="#000" stroke-width="0.3" textLength="32.53" lengthAdjust="spacingAndGlyphs">0.5</text>
<clipPath id="k3"><path clip-rule="evenodd" d="M-2000 -2000H4000V4000H-2000ZM66.58 802.48H72.19V808.45H66.58ZM74.45 802.48H79.63V808.45H74.45Z"/></clipPath><text x="66.11" y="805.45" font-size="24.41" fill="#000" stroke="#000" stroke-width="0.3" clip-path="url(#k3)">1</text>
<clipPath id="k4"><path clip-rule="evenodd" d="M-2000 -2000H4000V4000H-2000ZM748.40 802.48H754.01V808.45H748.40ZM756.26 802.48H761.45V808.45H756.26Z"/></clipPath><text x="747.92" y="805.45" font-size="24.41" fill="#000" stroke="#000" stroke-width="0.3" clip-path="url(#k4)">1</text>
<text x="64.01" y="683.02" font-size="24.41" fill="#000" stroke="#000" stroke-width="0.3">2</text>
<text x="747.92" y="683.02" font-size="24.41" fill="#000" stroke="#000" stroke-width="0.3">2</text>
<clipPath id="k5"><path clip-rule="evenodd" d="M-2000 -2000H4000V4000H-2000ZM236.70 974.93H242.31V980.90H236.70ZM244.57 974.93H249.75V980.90H244.57Z"/></clipPath><text x="236.22" y="977.90" font-size="24.41" fill="#000" stroke="#000" stroke-width="0.3" clip-path="url(#k5)">1</text>
<text x="484.87" y="977.90" font-size="24.41" fill="#000" stroke="#000" stroke-width="0.3">2</text>
<text x="735.51" y="977.90" font-size="24.41" fill="#000" stroke="#000" stroke-width="0.3">3</text>
<clipPath id="k6"><path clip-rule="evenodd" d="M-2000 -2000H4000V4000H-2000ZM103.87 25.56H109.46V31.60H103.87ZM111.71 25.56H116.87V31.60H111.71Z"/></clipPath><text x="103.40" y="28.60" font-size="25.34" fill="#000" stroke="#000" stroke-width="0.3" textLength="156.73" lengthAdjust="spacingAndGlyphs" clip-path="url(#k6)">13000 GeV pp</text>
<text x="595.78" y="28.60" font-size="25.34" fill="#000" stroke="#000" stroke-width="0.3" textLength="138.22" lengthAdjust="spacingAndGlyphs">Z (Drell-Yan)</text>
<text x="264.00" y="85.40" font-size="25.34" fill="#000" stroke="#000" stroke-width="0.3" textLength="56.74" lengthAdjust="spacingAndGlyphs">&lt;pT&gt;</text>
<text x="326.00" y="85.40" font-size="20.91" fill="#000" stroke="#000" stroke-width="0.3" textLength="247.00" lengthAdjust="spacingAndGlyphs">(ATLAS UE in Z production)</text>
<rect x="147.60" y="118.50" width="10.8" height="11" fill="#000"/>
<path d="M129.2 150.2H176" stroke="#b0580c" stroke-width="1.4" stroke-dasharray="4.7 3.4"/><circle cx="153.00" cy="150.20" r="5.25" fill="none" stroke="#b0580c" stroke-width="1.45"/>
<path d="M129.2 176.2H176" stroke="#3f9610" stroke-width="1.4" stroke-dasharray="4.7 3.4"/><rect x="147.75" y="170.95" width="10.5" height="10.5" fill="none" stroke="#3f9610" stroke-width="1.45"/>
<path d="M128.5 202.2H177" stroke="#1d5c6b" stroke-width="1.65"/><path d="M147.60 197.20H158.40L153.00 208.10Z" fill="#1d5c6b"/>
<text x="187.90" y="129.90" font-size="19.97" fill="#000" stroke="#000" stroke-width="0.3" textLength="59.25" lengthAdjust="spacingAndGlyphs">ATLAS</text>
<clipPath id="k7"><path clip-rule="evenodd" d="M-2000 -2000H4000V4000H-2000ZM305.89 153.26H310.29V158.90H305.89ZM312.08 153.26H316.13V158.90H312.08Z"/></clipPath><text x="186.30" y="155.90" font-size="19.97" fill="#000" stroke="#000" stroke-width="0.3" textLength="192.69" lengthAdjust="spacingAndGlyphs" clip-path="url(#k7)">Herwig++ 2.7.1 default</text>
<clipPath id="k8"><path clip-rule="evenodd" d="M-2000 -2000H4000V4000H-2000ZM283.53 179.56H287.92V185.20H283.53ZM289.71 179.56H293.77V185.20H289.71Z"/></clipPath><text x="186.30" y="182.20" font-size="19.97" fill="#000" stroke="#000" stroke-width="0.3" textLength="170.32" lengthAdjust="spacingAndGlyphs" clip-path="url(#k8)">Herwig 7.2.1 default</text>
<clipPath id="k9"><path clip-rule="evenodd" d="M-2000 -2000H4000V4000H-2000ZM283.16 205.56H287.53V211.20H283.16ZM289.32 205.56H293.36V211.20H289.32Z"/></clipPath><text x="186.30" y="208.20" font-size="19.97" fill="#000" stroke="#000" stroke-width="0.3" textLength="186.63" lengthAdjust="spacingAndGlyphs" clip-path="url(#k9)">Herwig 7.2.1 softTune</text>
<clipPath id="k10"><path clip-rule="evenodd" d="M-2000 -2000H4000V4000H-2000ZM407.75 601.68H411.33V607.00H407.75ZM412.81 601.68H416.11V607.00H412.81ZM438.19 601.68H441.77V607.00H438.19ZM443.25 601.68H446.55V607.00H443.25ZM490.38 601.68H493.96V607.00H490.38ZM495.44 601.68H498.75V607.00H495.44Z"/></clipPath><text x="331.80" y="604.00" font-size="15.64" fill="#999999" stroke="#999999" stroke-width="0.3" textLength="166.98" lengthAdjust="spacingAndGlyphs" clip-path="url(#k10)">ATLAS_2019_I1736531</text>
<g transform="translate(27.90 250.00) rotate(-90) translate(-27.90 -250.00)"><clipPath id="k11"><path clip-rule="evenodd" d="M-2000 -2000H4000V4000H-2000ZM28.78 246.95H34.39V253.00H28.78ZM36.64 246.95H41.82V253.00H36.64Z"/></clipPath><text x="28.30" y="250.00" font-size="25.45" fill="#000" stroke="#000" stroke-width="0.3" textLength="37.97" lengthAdjust="spacingAndGlyphs" clip-path="url(#k11)">1/N</text><text x="64.30" y="259.20" font-size="17.00" fill="#000" stroke="#000" stroke-width="0.3" textLength="17.22" lengthAdjust="spacingAndGlyphs">ch</text><text x="86.80" y="250.00" font-size="25.45" fill="#000" stroke="#000" stroke-width="0.3" textLength="31.19" lengthAdjust="spacingAndGlyphs">dN</text><text x="115.70" y="259.20" font-size="17.00" fill="#000" stroke="#000" stroke-width="0.3" textLength="17.22" lengthAdjust="spacingAndGlyphs">ch</text><text x="132.00" y="250.00" font-size="25.45" fill="#000" stroke="#000" stroke-width="0.3" textLength="33.92" lengthAdjust="spacingAndGlyphs">/dp</text><text x="167.09" y="263.90" font-size="17.00" fill="#000" stroke="#000" stroke-width="0.3">T</text><text x="183.80" y="250.00" font-size="25.45" fill="#000" stroke="#000" stroke-width="0.3" textLength="62.38" lengthAdjust="spacingAndGlyphs">[GeV]</text></g>
<text x="-24.80" y="793.80" font-size="18.88" fill="#000" stroke="#000" stroke-width="0.3" textLength="122.41" lengthAdjust="spacingAndGlyphs" transform="rotate(-90 36.40 793.80)">Ratio to ATLAS</text>
<g><text x="649.39" y="1002.80" font-size="26.70" fill="#000" stroke="#000" stroke-width="0.3">p</text><text x="662.68" y="1016.50" font-size="17.11" fill="#000" stroke="#000" stroke-width="0.3">T</text><text x="680.00" y="1002.80" font-size="26.70" fill="#000" stroke="#000" stroke-width="0.3" textLength="65.45" lengthAdjust="spacingAndGlyphs">[GeV]</text></g>
<clipPath id="k12"><path clip-rule="evenodd" d="M-2000 -2000H4000V4000H-2000ZM824.60 262.29H828.91V267.90H824.60ZM830.67 262.29H834.65V267.90H830.67ZM840.28 262.29H844.59V267.90H840.28ZM846.35 262.29H850.33V267.90H846.35Z"/></clipPath><text x="760.50" y="264.90" font-size="19.61" fill="#717171" stroke="#717171" stroke-width="0.3" textLength="228.72" lengthAdjust="spacingAndGlyphs" transform="rotate(-90 760.50 264.90)" clip-path="url(#k12)">Rivet 3.1.10, ≥ 2.8M events</text>
<clipPath id="k13"><path clip-rule="evenodd" d="M-2000 -2000H4000V4000H-2000ZM952.93 625.38H957.26V631.00H952.93ZM959.03 625.38H963.03V631.00H959.03Z"/></clipPath><text x="761.40" y="628.00" font-size="19.71" fill="#717171" stroke="#717171" stroke-width="0.3" textLength="285.75" lengthAdjust="spacingAndGlyphs" transform="rotate(-90 761.40 628.00)" clip-path="url(#k13)">mcplots.cern.ch [arXiv:1306.3436]</text>
</svg>
</body></html>
